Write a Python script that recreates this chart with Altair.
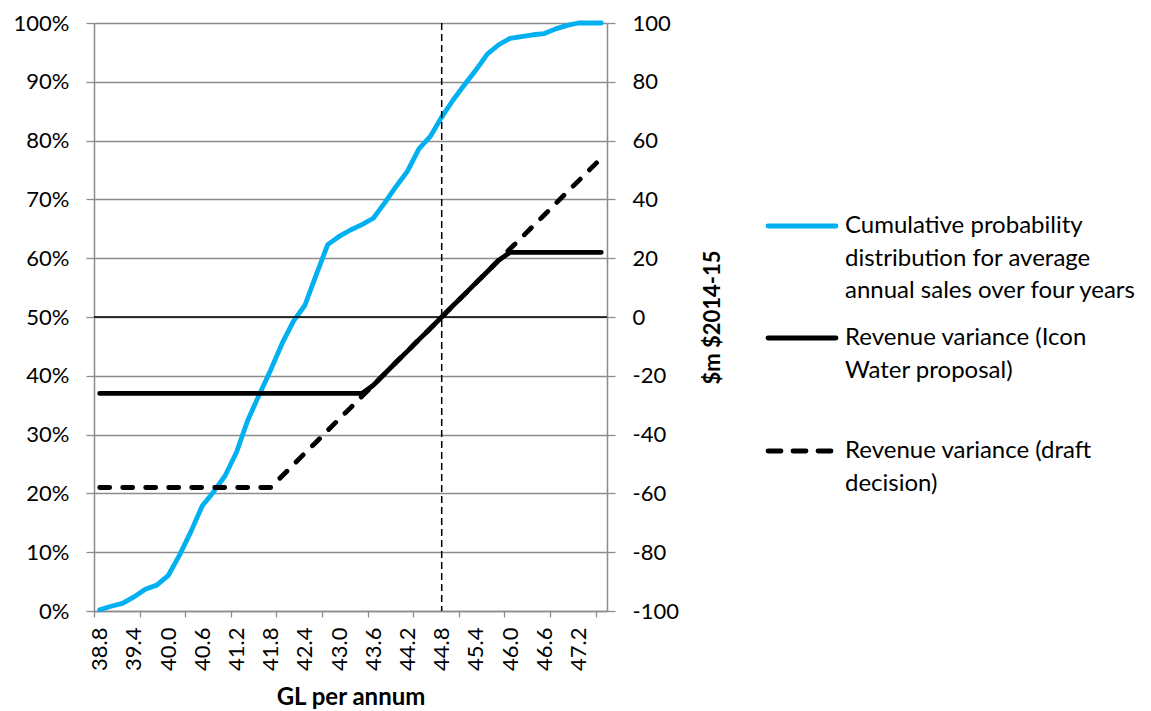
import altair as alt
import pandas as pd

# Average annual sales (GL per annum), one category every 0.2 GL
gl = [38.8, 39.0, 39.2, 39.4, 39.6, 39.8, 40.0, 40.2, 40.4, 40.6,
      40.8, 41.0, 41.2, 41.4, 41.6, 41.8, 42.0, 42.2, 42.4, 42.6,
      42.8, 43.0, 43.2, 43.4, 43.6, 43.8, 44.0, 44.2, 44.4, 44.6,
      44.8, 45.0, 45.2, 45.4, 45.6, 45.8, 46.0, 46.2, 46.4, 46.6,
      46.8, 47.0, 47.2, 47.4, 47.6]

# Cumulative probability (%) - left axis
cum_prob = [0.2, 0.8, 1.3, 2.4, 3.7, 4.4, 6.0, 9.5, 13.5, 17.9,
            20.3, 23.0, 27.0, 32.5, 36.8, 41.0, 45.5, 49.3, 52.0, 57.2,
            62.3, 63.7, 64.8, 65.7, 66.8, 69.4, 72.2, 74.8, 78.6, 80.7,
            84.0, 86.9, 89.5, 92.0, 94.7, 96.3, 97.4, 97.7, 98.0, 98.2,
            99.0, 99.6, 100.0, 100.0, 100.0]

# Revenue variance, $m $2014-15 - right axis
icon_water = [-26, -26, -26, -26, -26, -26, -26, -26, -26, -26,
              -26, -26, -26, -26, -26, -26, -26, -26, -26, -26,
              -26, -26, -26, -26, -23.2, -19.3, -15.4, -11.6, -7.7, -3.9,
              0.0, 3.9, 7.7, 11.6, 15.4, 19.3, 22, 22, 22, 22,
              22, 22, 22, 22, 22]
draft = [-58, -58, -58, -58, -58, -58, -58, -58, -58, -58,
         -58, -58, -58, -58, -58, -58, -54.1, -50.2, -46.3, -42.5,
         -38.6, -34.7, -30.9, -27.0, -23.2, -19.3, -15.4, -11.6, -7.7, -3.9,
         0.0, 3.9, 7.7, 11.6, 15.4, 19.3, 23.2, 27.0, 30.9, 34.7,
         38.6, 42.5, 46.3, 50.2, 54.0]

legend_labels = [
    "Cumulative probability\ndistribution for average\nannual sales over four years",
    "Revenue variance (Icon\nWater proposal)",
    "Revenue variance (draft\ndecision)",
]

x_label_values = [round(38.8 + 0.6 * k, 1) for k in range(15)]
x_tick_values = [round(38.7 + 0.2 * k, 1) for k in range(46)]
marker_gl = 44.8

BLUE = "#00B0F0"
GRID = "#8c8c8c"
FONT = "Lato"

df = pd.DataFrame({"gl": gl, "cum_prob": cum_prob,
                   "icon_water": icon_water, "draft": draft})
one = pd.DataFrame({"k": [0]})

W, H = 513, 588
xscale = alt.Scale(domain=[38.7, 47.7], nice=False, zero=False)

# Category labels along the bottom
x_labels = alt.X(
    "gl:Q", scale=xscale,
    axis=alt.Axis(orient="bottom", values=x_label_values, format=".1f",
                  labelAngle=270, ticks=False, tickSize=0, domain=False,
                  grid=False, labelPadding=16, labelFlush=False,
                  labelOverlap=False, title="GL per annum", titleY=93,
                  titleFontSize=24, titleBaseline="alphabetic"),
)
# Tick marks between categories
x_ticks = alt.X(
    "gl:Q", scale=xscale,
    axis=alt.Axis(orient="bottom", values=x_tick_values, labels=False,
                  tickSize=6, tickColor=GRID, domainColor=GRID,
                  domainWidth=1.5, tickWidth=1.3, grid=False, title=None),
)

blue = alt.Chart(df).mark_line(
    color=BLUE, strokeWidth=4.8, strokeCap="round", strokeJoin="round"
).encode(
    x=x_labels,
    y=alt.Y("cum_prob:Q",
            scale=alt.Scale(domain=[0, 100], nice=False, zero=False),
            axis=alt.Axis(orient="left", values=list(range(0, 101, 10)),
                          labelExpr="datum.value + '%'", grid=True,
                          gridColor=GRID, gridWidth=1.3, tickSize=8,
                          tickColor=GRID, tickWidth=1.3, domainColor=GRID,
                          domainWidth=1.5, labelPadding=17, title=None)),
)

solid = alt.Chart(df).mark_line(
    color="black", strokeWidth=4.8, strokeCap="round", strokeJoin="round"
).encode(
    x=x_ticks,
    y=alt.Y("icon_water:Q",
            scale=alt.Scale(domain=[-100, 100], nice=False, zero=False),
            axis=alt.Axis(orient="right", values=list(range(-100, 101, 20)),
                          labelExpr="'' + datum.value", grid=False,
                          tickSize=8, tickColor=GRID, tickWidth=1.3,
                          domainColor=GRID, domainWidth=1.5,
                          labelPadding=17, labelAlign="left",
                          title="$m $2014-15", titleAngle=270, titleX=105,
                          titleY=294, titleAlign="center",
                          titleBaseline="middle")),
)

dashed = alt.Chart(df).mark_line(
    color="black", strokeWidth=4.8, strokeCap="round", strokeJoin="round",
    strokeDash=[10, 13]
).encode(x="gl:Q", y="draft:Q")

zero_line = alt.Chart(one).mark_rule(color="black", strokeWidth=1.5).encode(
    y=alt.datum(0))

marker_line = alt.Chart(one).mark_rule(
    color="black", strokeWidth=1.5, strokeDash=[7, 4]
).encode(x=alt.datum(marker_gl))

right_group = alt.layer(solid, dashed, zero_line, marker_line)

# Legend at the right of the plot
sym_x0, sym_x1, text_x = 674, 742, 751
sym_y = [203, 315, 428]
legend_styles = [
    dict(color=BLUE),
    dict(color="black"),
    dict(color="black", strokeDash=[13, 12]),
]
legend_layers = []
for label, y0, style in zip(legend_labels, sym_y, legend_styles):
    legend_layers.append(
        alt.Chart(one).mark_rule(strokeWidth=4.8, strokeCap="round", **style)
        .encode(x=alt.value(sym_x0), x2=alt.value(sym_x1), y=alt.value(y0))
    )
    legend_layers.append(
        alt.Chart(one).mark_text(
            align="left", baseline="top", font=FONT, fontSize=24,
            lineHeight=32.5, lineBreak="\n", color="black"
        ).encode(x=alt.value(text_x), y=alt.value(y0 - 12),
                 text=alt.value(label))
    )

chart = alt.layer(blue, right_group, *legend_layers).resolve_scale(
    y="independent"
).resolve_axis(
    x="independent"
).properties(
    width=W, height=H, autosize="none",
    padding={"left": 94, "top": 23, "right": 1151 - 94 - W, "bottom": 711 - 23 - H},
).configure(
    font=FONT, background="white"
).configure_view(
    stroke=None
).configure_axis(
    labelFont=FONT, labelFontSize=22, labelColor="black",
    titleFont=FONT, titleFontSize=22, titleColor="black",
    titleFontWeight="bold",
)

chart.save("out.html", embed_options={"renderer": "svg", "actions": False})
